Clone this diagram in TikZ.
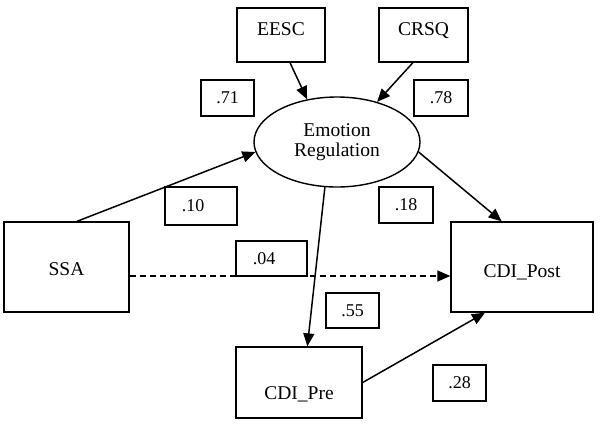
\documentclass[tikz,border=0pt]{standalone}
\usepackage{fontspec}
\setmainfont{Liberation Serif}
\usetikzlibrary{arrows.meta,shapes.geometric}
\begin{document}
\begin{tikzpicture}[x=1pt,y=-1pt,
  box/.style={draw, line width=1.4pt, inner sep=0pt, font=\fontsize{19.5}{21}\selectfont},
  numbox/.style={draw, line width=1.3pt, inner sep=0pt, minimum width=53pt, minimum height=36pt, font=\fontsize{18}{20}\selectfont},
  arr/.style={line width=1.5pt, -{Triangle[length=13pt,width=11pt]}},
  dasharr/.style={arr, dash pattern=on 6pt off 4pt}]
\useasboundingbox (0,0) rectangle (600,426);

\node[box, minimum width=88pt, minimum height=54pt, text height=14pt, text depth=14pt] (eesc) at (281,35) {EESC};
\node[box, minimum width=89pt, minimum height=54pt, text height=14pt, text depth=14pt] (crsq) at (423.5,35) {CRSQ};
\node[box, ellipse, minimum width=166pt, minimum height=90pt, align=center, font=\fontsize{19.5}{20.5}\selectfont] (er) at (337,142) {Emotion\\Regulation};
\node[box, minimum width=125pt, minimum height=90pt, text height=16pt, text depth=0pt] (ssa) at (66.5,267) {SSA};
\node[box, minimum width=142pt, minimum height=90pt, text height=20pt, text depth=0pt] (post) at (522,267) {CDI\_Post};
\node[box, minimum width=126pt, minimum height=71pt, text height=33pt, text depth=0pt] (pre) at (299,382.5) {CDI\_Pre};

\node[numbox] (n71) at (227.5,98) {.71};
\node[numbox, minimum width=54pt] (n78) at (441,98) {.78};
\node[numbox, minimum width=72pt, minimum height=38pt] (n10) at (201,206) {.10\hspace*{16pt}};
\node[numbox, minimum width=54pt] (n18) at (406,205) {.18};
\node[numbox, minimum width=71pt, minimum height=35pt] (n04) at (271.5,258.5) {.04\hspace*{15pt}};
\node[numbox, minimum height=35pt] (n55) at (352.5,310.5) {.55};
\node[numbox] (n28) at (459.5,383) {.28};

\draw[arr] (eesc.-72) -- (er.125);
\draw[arr] (crsq.-111) -- (er.45);
\draw[arr] (ssa.77) -- (er.187);
\draw[arr] (er.-7) -- (post.114);
\draw[arr] (er.-105) -- (pre.77);
\draw[arr] (pre.east) -- (post.-129);
\draw[dasharr] ([yshift=-9pt]ssa.east) -- ([yshift=-9pt]post.west);
\end{tikzpicture}
\end{document}
